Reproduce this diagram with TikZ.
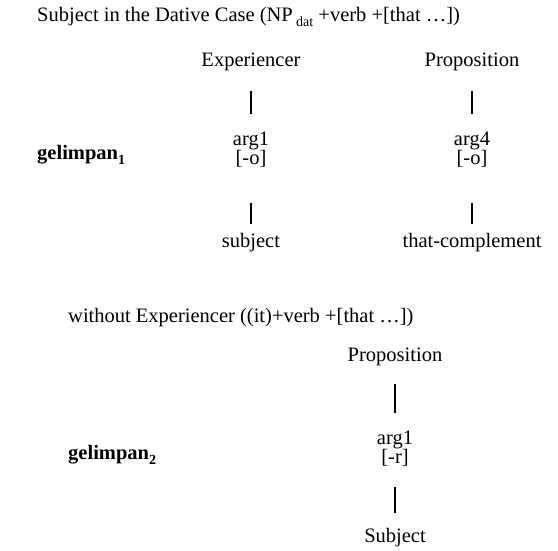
\documentclass[tikz,border=0pt]{standalone}
\usepackage{fontspec}
\setmainfont{Liberation Serif}
\begin{document}
\begin{tikzpicture}[x=1pt,y=-1pt,
  lbl/.style={inner sep=0pt,font=\fontsize{20.5}{21}\selectfont},
  argn/.style={inner sep=0pt,align=center,font=\fontsize{20.5}{19}\selectfont},
  conn/.style={line width=1.4pt},
  upper/.style={conn,shorten <=20pt,shorten >=18pt},
  lower/.style={conn,shorten <=35pt,shorten >=10pt},
  upperb/.style={conn,shorten <=18pt,shorten >=18pt},
  lowerb/.style={conn,shorten <=20pt,shorten >=16pt}]
\useasboundingbox (0,0) rectangle (558,551);
% upper diagram
\node[lbl,anchor=west] (t1) at (37,17) {Subject in the Dative Case (NP\,\raisebox{-0.45ex}{\fontsize{14}{14}\selectfont dat} +verb +[that …])};
\node[lbl] (exp) at (251,62) {Experiencer};
\node[lbl] (prop) at (472,62) {Proposition};
\node[argn] (a1) at (251,150) {arg1\\{}[-o]};
\node[argn] (a4) at (472,150) {arg4\\{}[-o]};
\node[lbl,anchor=west] (g1) at (37,155) {\textbf{gelimpan}\raisebox{-0.45ex}{\fontsize{14}{14}\selectfont\bfseries 1}};
\node[lbl] (subj) at (251,243) {subject};
\node[lbl] (thc) at (472,243) {that-complement};
\draw[upper] (exp) -- (a1);
\draw[upper] (prop) -- (a4);
\draw[lower] (a1) -- (subj);
\draw[lower] (a4) -- (thc);
% lower diagram
\node[lbl,anchor=west] (t2) at (68,318) {without Experiencer ((it)+verb +[that …])};
\node[lbl] (prop2) at (395,357) {Proposition};
\node[argn] (b1) at (395,449) {arg1\\{}[-r]};
\node[lbl,anchor=west] (g2) at (68,455) {\textbf{gelimpan}\raisebox{-0.45ex}{\fontsize{14}{14}\selectfont\bfseries 2}};
\node[lbl] (subj2) at (395,538) {Subject};
\draw[upperb] (prop2) -- (b1);
\draw[lowerb] (b1) -- (subj2);
\end{tikzpicture}
\end{document}
